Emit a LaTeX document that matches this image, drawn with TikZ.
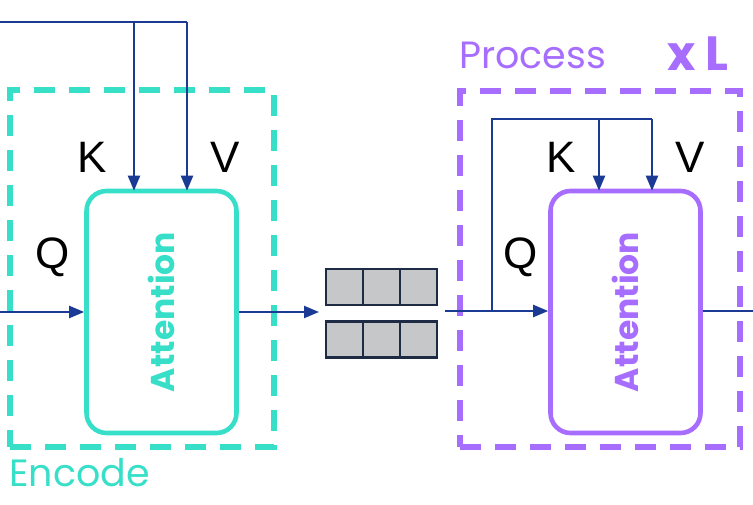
\documentclass[tikz,border=0pt]{standalone}
\usepackage{fontspec}
\setmainfont{Liberation Sans}
\newfontfamily\popfont{Poppins}
\usetikzlibrary{arrows.meta}
\definecolor{teal1}{HTML}{38DFC8}
\definecolor{purp1}{HTML}{A66DFF}
\definecolor{navy1}{HTML}{1B3A94}
\definecolor{cellfill}{HTML}{C5C7C9}
\definecolor{celledge}{HTML}{1E2B45}
\tikzset{
  group/.style={draw, dash pattern=on 21pt off 14pt, line width=5.5pt, minimum width=#1, inner sep=0pt},
  attbox/.style={draw, rounded corners=20pt, line width=4.6pt, minimum width=150pt, minimum height=242pt, inner sep=0pt},
  atttext/.style={font=\popfont\bfseries\fontsize{33}{36}\selectfont, rotate=90},
  lbl/.style={font=\fontsize{44}{48}\selectfont, text=black, inner sep=0pt},
  grouplbl/.style={font=\popfont\fontsize{38}{42}\selectfont, inner sep=0pt, anchor=base west},
  conn/.style={draw=navy1, line width=2.2pt},
  arr/.style={conn, -{Triangle[length=15pt,width=12pt]}},
  cell/.style={draw=celledge, fill=cellfill, line width=2.5pt, minimum width=37pt, minimum height=36pt, inner sep=0pt},
}
\begin{document}
\begin{tikzpicture}[x=1pt,y=-1pt]
\useasboundingbox (0,0) rectangle (753,505);
% Encode group
\node[group=264pt, draw=teal1, minimum height=357pt] (encgrp) at (142,268.5) {};
\node[grouplbl, text=teal1] (enclbl) at (9,486) {Encode};
\node[attbox, draw=teal1] (encatt) at (161.5,312) {};
\node[atttext, text=teal1] (enctxt) at (161.5,312) {Attention};
\node[lbl] (encK) at (92,157) {K};
\node[lbl] (encV) at (225,157) {V};
\node[lbl] (encQ) at (53,257) {Q};
% Process group
\node[group=280pt, draw=purp1, minimum height=356pt] (prcgrp) at (600,269) {};
\node[grouplbl, text=purp1] (prclbl) at (459,69) {Process};
\node[font=\popfont\bfseries\fontsize{48}{52}\selectfont, inner sep=0pt, anchor=base west, text=purp1] (xl) at (667,71) {x L};
\node[attbox, draw=purp1] (prcatt) at (625.5,312) {};
\node[atttext, text=purp1] (prctxt) at (625.5,312) {Attention};
\node[lbl] (prcK) at (561,157) {K};
\node[lbl] (prcV) at (690,157) {V};
\node[lbl] (prcQ) at (521,257) {Q};
% memory cells
\node[cell] (c1) at (344.5,287) {};
\node[cell] (c2) at (381.5,287) {};
\node[cell] (c3) at (418.5,287) {};
\node[cell] (c4) at (344.5,339.5) {};
\node[cell] (c5) at (381.5,339.5) {};
\node[cell] (c6) at (418.5,339.5) {};
% coordinates
\coordinate (inL) at (0,312);
\coordinate (topL) at (0,22);
\coordinate (kin) at (134,22);
\coordinate (vin) at (187,22);
\coordinate (encout) at (319,312);
\coordinate (pin) at (445,311);
\coordinate (pbr) at (492,311);
\coordinate (ptop) at (492,119);
\coordinate (pk) at (599,119);
\coordinate (pv) at (652,119);
\coordinate (pout) at (753,311);
% connectors
\draw[arr] (inL) -- (encatt.west |- inL);
\draw[conn] (topL) -- (vin);
\draw[arr] (kin) -- ([yshift=-2pt]encatt.north -| kin);
\draw[arr] (vin) -- ([yshift=-2pt]encatt.north -| vin);
\draw[arr] (encatt.east |- encout) -- (encout);
\draw[arr] (pin) -- (prcatt.west |- pin);
\draw[conn] (pbr) -- (ptop) -- (pv);
\draw[arr] (pk) -- ([yshift=-2pt]prcatt.north -| pk);
\draw[arr] (pv) -- ([yshift=-2pt]prcatt.north -| pv);
\draw[conn] (prcatt.east |- pout) -- (pout);
\end{tikzpicture}
\end{document}
